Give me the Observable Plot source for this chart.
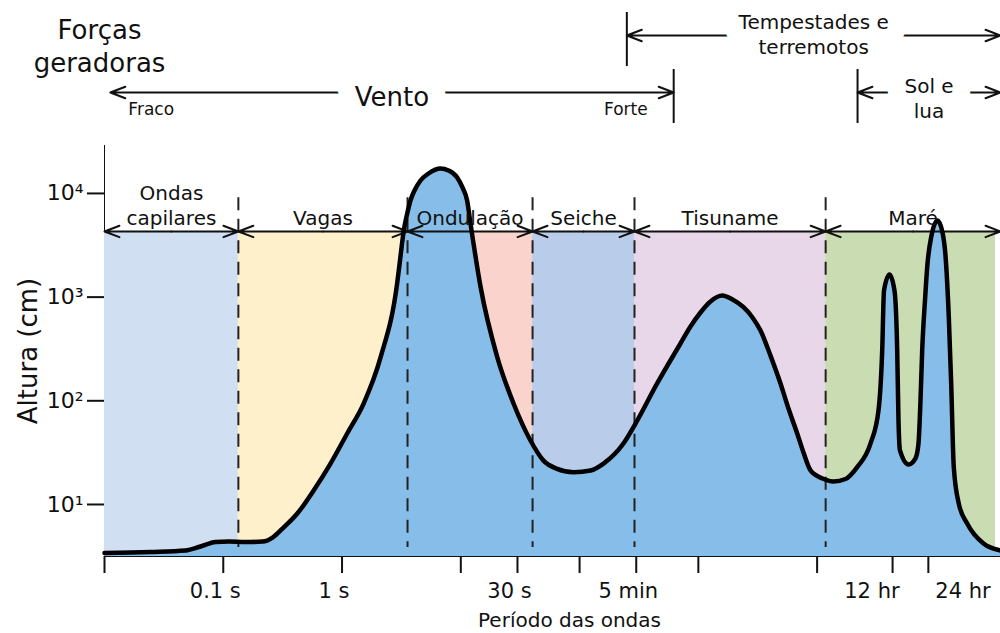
<!DOCTYPE html>
<html>
<head>
<meta charset="utf-8">
<script src="https://cdn.jsdelivr.net/npm/d3@7"></script>
<script src="https://cdn.jsdelivr.net/npm/@observablehq/plot@0.6"></script>
<style>
  html, body { margin: 0; padding: 0; background: #fff; }
  #chart { width: 1000px; height: 633px; overflow: hidden; }
  #chart svg { display: block; }
  #main g[aria-label^="x-axis"] line, #main g[aria-label^="x-axis"] path,
  #main g[aria-label^="y-axis"] line, #main g[aria-label^="y-axis"] path { stroke-width: 2px; }
</style>
</head>
<body>
<div id="chart"><div id="head"></div><div id="main"></div></div>
<script>
// ---- wave spectrum (period in seconds, height in cm) ----
const periodS = [0.01, 0.0244, 0.0481, 0.0643, 0.086, 0.111, 0.154, 0.214, 0.26, 0.315, 0.42, 0.575, 0.8,
  1.105, 1.52, 2.11, 2.91, 3.076, 3.31, 3.524, 3.77, 4.075, 4.58, 5.346, 6.75, 7.879, 9.32, 10.33, 11.3,
  12.1, 14.7, 20.3, 27.8, 38.6, 49.7, 63.9, 88.9, 124, 159, 234, 296, 450, 707, 859, 1043, 1265, 1588, 1939,
  2400, 2857, 3337, 4050, 4917, 5741, 6798, 7680, 8799, 11100, 13740, 17340, 21750, 28140, 32870, 35320,
  36570, 40680, 44820, 47240, 48440, 49860, 58820, 67350, 71380, 74200, 76680, 80960, 84490, 91850,
  103180, 113680, 120470, 128470, 134550, 141490, 155900, 183450, 251700, 350000];
const heightCm = [3.40, 3.48, 3.60, 3.93, 4.34, 4.39, 4.34, 4.39, 4.80, 5.86, 8.18, 13.6, 24.8,
  48.4, 94.1, 262, 1353, 2257, 4390, 6269, 8551, 10683, 13333, 15580, 17404, 16660, 14250, 11420, 8551,
  5018, 1238, 263, 94.1, 41.4, 26.5, 22.2, 20.5, 21.3, 24.8, 38.7, 60.4, 147, 357, 521, 711, 907, 1036, 948,
  799, 636, 476, 273, 147, 84.2, 48.4, 31.7, 21.3, 17.8, 16.7, 17.6, 22.9, 38.7, 80.6, 306,
  1158, 1653, 1158, 306, 64.5, 33.2, 24.3, 27.8, 38.7, 100.6, 306, 928, 1943, 3930,
  5483, 4201, 2521, 640, 147, 22.9, 10.2, 6.55, 4.20, 3.60];

// ---- wave categories ----
const bandNames = ["Ondas\ncapilares", "Vagas", "Ondulação", "Seiche", "Tisuname", "Maré"];
const bandEdges = [0.01, 0.134, 3.56, 40.2, 290, 11800, 318000];
const bandColors = ["#d0e0f2", "#fdf0cb", "#f9d3cc", "#b9cdea", "#e7d7e9", "#cadcb1"];
const bracketLevel = 4300;          // height of the category brackets
const dashTop = 9100, dashBottom = 3.85;

// ---- generating forces ----
const forceLabels = ["Tempestades e\nterremotos", "Vento", "Sol e\nlua"];
const forceRows = ["top", "bottom", "bottom"];
const forceStart = [250, 0.0112, 21900];
const forceEnd = [350000, 620, 350000];
const forceBar = [250, 620, 21900];
const windLabels = ["Fraco", "Forte"];

// ---- axes ----
const xMin = 0.01, xMax = 350000, yMin = 3.15, yMax = 29000;
const xTicks = [0.01, 0.1, 1, 10, 30, 100, 300, 1000, 10000, 43200, 86400];
const xTickLabels = ["", "0.1 s", "1 s", "", "30 s", "", "5 min", "", "", "12 hr", "24 hr"];
const yTicks = [10, 100, 1000, 10000];
const yTickLabels = ["10¹", "10²", "10³", "10⁴"];

const wave = periodS.map((p, i) => ({period: p, height: heightCm[i]}));
const bands = bandNames.map((name, i) => ({
  name, start: bandEdges[i], end: bandEdges[i + 1],
  arrowEnd: i === bandNames.length - 1 ? xMax : bandEdges[i + 1],
  color: bandColors[i]
}));
bands.forEach(b => b.mid = Math.sqrt(b.start * b.arrowEnd));
const forces = forceLabels.map((label, i) => ({
  label, row: forceRows[i], start: forceStart[i], end: forceEnd[i], bar: forceBar[i],
  mid: Math.sqrt(forceStart[i] * forceEnd[i])
}));
const xLabels = xTicks.map((t, i) => ({value: t, label: xTickLabels[i]})).filter(d => d.label);
const yLabelMap = new Map(yTicks.map((t, i) => [t, yTickLabels[i]]));

const font = "DejaVu Sans";
const ink = "#111";
const arrowOpts = {stroke: ink, strokeWidth: 2, headLength: 12, headAngle: 42};
const haloOpts = {stroke: "white", fill: "white", strokeWidth: 36, strokeLinejoin: "round"};

// label marks for the header, drawn twice: a white halo that hides the arrow line, then the text
function forceText(opts) {
  return [
    Plot.text(opts.data, {x: "mid", y: "row", text: "label", fontSize: opts.size, lineHeight: 1.25, dy: opts.dy, ...haloOpts}),
    Plot.text(opts.data, {x: "mid", y: "row", text: "label", fontSize: opts.size, lineHeight: 1.25, dy: opts.dy, fill: ink})
  ];
}

// ---------- header (generating forces) ----------
const header = Plot.plot({
  width: 1000, height: 145,
  marginTop: 12, marginBottom: 22, marginLeft: 104, marginRight: 0,
  style: {fontFamily: font, fontSize: "20px", background: "white"},
  x: {type: "log", domain: [xMin, xMax], axis: null},
  y: {type: "band", domain: ["top", "bottom"], paddingInner: 0.055, paddingOuter: 0, axis: null},
  marks: [
    Plot.arrow(forces, {x1: "mid", x2: "start", y1: "row", y2: "row", dy: -4, ...arrowOpts}),
    Plot.arrow(forces, {x1: "mid", x2: "end", y1: "row", y2: "row", dy: -4, ...arrowOpts}),
    ...forceText({data: forces.filter(d => d.label === "Vento"), size: 26, dy: -1}),
    ...forceText({data: forces.filter(d => d.row === "top"), size: 20, dy: -6}),
    ...forceText({data: forces.filter(d => d.label.startsWith("Sol")), size: 20, dy: 1}),
    Plot.text([windLabels[0]], {x: () => forceStart[1], y: () => "bottom", text: d => d, fontSize: 17, textAnchor: "start", dx: 18, dy: 13, fill: ink}),
    Plot.text([windLabels[1]], {x: () => forceEnd[1], y: () => "bottom", text: d => d, fontSize: 17, textAnchor: "end", dx: -26, dy: 13, fill: ink}),
    Plot.text(["Forças\ngeradoras"], {frameAnchor: "left", y: () => "top", text: d => d, fontSize: 26, lineHeight: 1.27, textAnchor: "middle", dx: -5, dy: 5, fill: ink}),
    Plot.tickX(forces, {x: "bar", y: "row", stroke: ink, strokeWidth: 2})
  ]
});

// ---------- main chart ----------
const main = Plot.plot({
  width: 1000, height: 488,
  marginTop: 0, marginBottom: 77, marginLeft: 104, marginRight: 0,
  style: {fontFamily: font, fontSize: "22px", background: "white", color: ink},
  color: {type: "identity"},
  x: {type: "log", domain: [xMin, xMax], ticks: xTicks, tickFormat: () => "",
      tickSize: 17, tickPadding: 7, line: true, label: null},
  y: {type: "log", domain: [yMin, yMax], ticks: yTicks, tickFormat: d => yLabelMap.get(d) ?? "",
      tickSize: 17, tickPadding: 4, line: true, label: null},
  marks: [
    Plot.rect(bands, {x1: "start", x2: "end", y1: () => yMin, y2: () => bracketLevel, fill: "color"}),
    Plot.areaY(wave, {x: "period", y1: () => yMin, y2: "height", fill: "#86bde9", curve: "monotone-x"}),
    Plot.ruleX(bands.slice(1), {x: "start", y1: () => dashTop, y2: () => dashBottom, stroke: "#222", strokeWidth: 2, strokeDasharray: "13,8.5"}),
    Plot.arrow(bands, {x1: "mid", x2: "start", y1: () => bracketLevel, y2: () => bracketLevel, ...arrowOpts}),
    Plot.arrow(bands, {x1: "mid", x2: "arrowEnd", y1: () => bracketLevel, y2: () => bracketLevel, ...arrowOpts}),
    Plot.line(wave, {x: "period", y: "height", stroke: "black", strokeWidth: 4.5, curve: "monotone-x"}),
    Plot.text(bands, {x: "mid", y: () => bracketLevel, text: "name", fontSize: 20, lineHeight: 1.25, lineAnchor: "bottom", dy: -6, fill: ink}),
    // x tick labels
    Plot.text(xLabels.filter(d => !d.label.endsWith("hr")), {x: "value", text: "label", frameAnchor: "bottom", lineAnchor: "top", fontSize: 21, dx: -8, dy: 27, fill: ink}),
    Plot.text(xLabels.filter(d => d.label.startsWith("12")), {x: "value", text: "label", frameAnchor: "bottom", lineAnchor: "top", textAnchor: "end", fontSize: 21, dx: 7, dy: 27, fill: ink}),
    Plot.text(xLabels.filter(d => d.label.startsWith("24")), {x: "value", text: "label", frameAnchor: "bottom", lineAnchor: "top", textAnchor: "start", fontSize: 21, dx: 7, dy: 27, fill: ink}),
    Plot.text(["Período das ondas"], {frameAnchor: "bottom", lineAnchor: "top", text: d => d, fontSize: 20, dx: 17, dy: 56, fill: ink}),
    Plot.text(["Altura (cm)"], {frameAnchor: "left", textAnchor: "middle", lineAnchor: "middle", text: d => d, fontSize: 26, rotate: -90, dx: -76, fill: ink})
  ]
});

document.getElementById("head").append(header);
document.getElementById("main").append(main);
</script>
</body>
</html>
